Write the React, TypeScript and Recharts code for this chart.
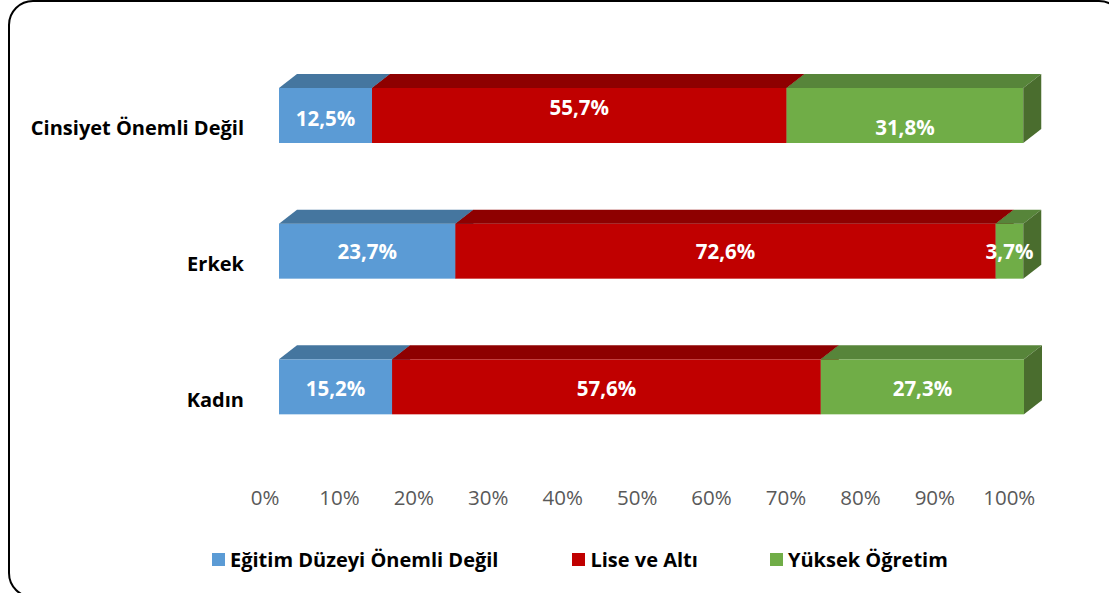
import React from 'react';
import { BarChart, Bar, XAxis, YAxis, LabelList } from 'recharts';

// kategoriler (yukaridan asagiya)
const categories = ['Cinsiyet Önemli Değil', 'Erkek', 'Kadın'];

// seri degerleri (%)
const egitimOnemliDegil = [12.5, 23.7, 15.2];
const liseVeAlti = [55.7, 72.6, 57.6];
const yuksekOgretim = [31.8, 3.7, 27.3];

const xTicks = [0, 10, 20, 30, 40, 50, 60, 70, 80, 90, 100];

const series = [
  { key: 'egitim', name: 'Eğitim Düzeyi Önemli Değil', front: '#5B9BD5', top: '#45769F', side: '#3F6B92' },
  { key: 'lise', name: 'Lise ve Altı', front: '#C00000', top: '#8E0000', side: '#800000' },
  { key: 'yuksek', name: 'Yüksek Öğretim', front: '#70AD47', top: '#57853A', side: '#4A6D2E' },
];

// Excel'in etiket kaydirmalari (ust cubuk)
const labelNudge: Record<string, number[]> = {
  'Cinsiyet Önemli Değil': [2, -9, 11],
  Erkek: [0, 0, 0],
  Kadın: [1, 1, 1],
};

const data = categories.map((c, i) => ({
  name: c,
  egitim: egitimOnemliDegil[i],
  lise: liseVeAlti[i],
  yuksek: yuksekOgretim[i],
}));

const FONT = '"Open Sans", sans-serif';
const DX = 18;
const DY = 14;

const make3D = (s: typeof series[number]) => (props: any) => {
  const { x, y, width, height } = props;
  if (width == null || height == null) return null;
  return (
    <g>
      <rect x={x} y={y} width={width} height={height} fill={s.front} />
      <polygon
        points={`${x},${y} ${x + DX},${y - DY} ${x + width + DX},${y - DY} ${x + width},${y}`}
        fill={s.top}
      />
      <polygon
        points={`${x + width},${y} ${x + width + DX},${y - DY} ${x + width + DX},${y + height - DY} ${x + width},${y + height}`}
        fill={s.side}
      />
    </g>
  );
};

const makeLabel = (si: number) => (props: any) => {
  const { x, y, width, height, value, index } = props;
  const nudge = labelNudge[categories[index]]?.[si] ?? 0;
  return (
    <text
      x={x + width / 2}
      y={y + height / 2 + nudge}
      fill="#fff"
      fontFamily={FONT}
      fontWeight={700}
      fontSize={20.5}
      textAnchor="middle"
      dominantBaseline="central"
    >
      {String(value).replace('.', ',')}%
    </text>
  );
};

const CategoryTick = (props: any) => {
  const { y, payload } = props;
  return (
    <text
      x={244}
      y={y + 12}
      textAnchor="end"
      dominantBaseline="central"
      fontFamily={FONT}
      fontWeight={700}
      fontSize={20}
      fill="#000"
    >
      {payload.value}
    </text>
  );
};

const PercentTick = (props: any) => {
  const { x, payload } = props;
  return (
    <text
      x={x - 14}
      y={497}
      textAnchor="middle"
      dominantBaseline="central"
      fontFamily={FONT}
      fontSize={20.5}
      fill="#595959"
    >
      {payload.value}%
    </text>
  );
};

export default function App() {
  return (
    <div style={{ position: 'absolute', left: 0, top: 0, width: 1109, height: 593, overflow: 'hidden', background: '#fff' }}>
      <svg width={1109} height={593} style={{ position: 'absolute', left: 0, top: 0 }}>
        <rect x={9} y={1} width={1114} height={596} rx={24} fill="none" stroke="#000" strokeWidth={2} />
      </svg>
      <div style={{ position: 'absolute', left: 0, top: 0 }}>
        <BarChart
          width={1109}
          height={593}
          data={data}
          layout="vertical"
          margin={{ top: 48, right: 85, bottom: 98, left: 9 }}
          barCategoryGap={0}
        >
          <XAxis
            type="number"
            domain={[0, 100]}
            ticks={xTicks}
            axisLine={false}
            tickLine={false}
            tick={<PercentTick />}
            height={40}
          />
          <YAxis
            type="category"
            dataKey="name"
            width={270}
            axisLine={false}
            tickLine={false}
            tick={<CategoryTick />}
          />
          {series.map((s, si) => (
            <Bar
              key={s.key}
              dataKey={s.key}
              name={s.name}
              stackId="a"
              fill={s.front}
              barSize={55}
              shape={make3D(s)}
              isAnimationActive={false}
            >
              <LabelList dataKey={s.key} content={makeLabel(si)} />
            </Bar>
          ))}
        </BarChart>
      </div>
      <div
        style={{
          position: 'absolute',
          top: 546,
          left: 212,
          display: 'flex',
          alignItems: 'center',
          fontFamily: FONT,
          fontWeight: 700,
          fontSize: 20,
          color: '#000',
        }}
      >
        {series.map((s, i) => (
          <div key={s.key} style={{ display: 'flex', alignItems: 'center', marginLeft: i === 0 ? 0 : [0, 74, 72][i] }}>
            <span style={{ width: 13, height: 13, background: s.front, display: 'inline-block', marginRight: 5 }} />
            <span>{s.name}</span>
          </div>
        ))}
      </div>
    </div>
  );
}
